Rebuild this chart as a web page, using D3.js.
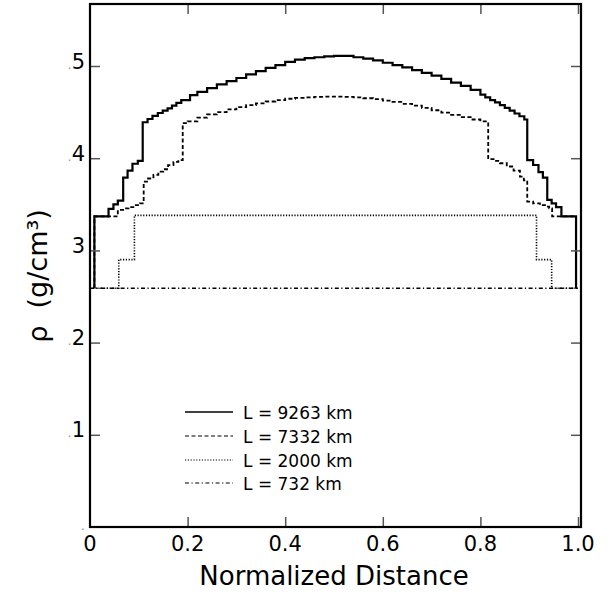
<!DOCTYPE html>
<html><head><meta charset="utf-8">
<script src="https://cdn.jsdelivr.net/npm/d3@7"></script>
<style>
html,body{margin:0;padding:0;background:#fff;}
svg{display:block;}
text{font-family:"DejaVu Sans",sans-serif;fill:#000;}
</style></head>
<body><div id="chart"></div>
<script>
// ---- data ----
const xTicks = [0, 0.2, 0.4, 0.6, 0.8, 1.0];
const xTickLabels = ["0", "0.2", "0.4", "0.6", "0.8", "1.0"];
const yTicks = [0, 1, 2, 3, 4, 5];
const yTickLabels = [".", ".1", ".2", "3", ".4", ".5"];
const legendLabels = ["L = 9263 km", "L = 7332 km", "L = 2000 km", "L = 732 km"];

// L = 9263 km (solid) : [normalized distance, density] step points
const seriesL9263 = [
  [0.009,2.59],[0.009,3.37],[0.038,3.45],[0.048,3.50],[0.057,3.54],[0.068,3.79],[0.077,3.865],
  [0.087,3.94],[0.098,3.97],[0.108,4.39],[0.118,4.425],[0.128,4.46],[0.139,4.49],[0.149,4.515],
  [0.159,4.54],[0.168,4.57],[0.177,4.60],[0.187,4.63],[0.205,4.685],[0.22,4.72],[0.24,4.76],
  [0.26,4.80],[0.28,4.835],[0.30,4.87],[0.32,4.91],[0.34,4.945],[0.36,4.98],[0.38,5.01],
  [0.40,5.045],[0.42,5.07],[0.44,5.085],[0.46,5.095],[0.48,5.105],[0.50,5.11],[0.52,5.11],
  [0.54,5.095],[0.56,5.08],[0.58,5.06],[0.60,5.035],[0.62,5.01],[0.64,4.985],[0.66,4.955],
  [0.68,4.925],[0.70,4.895],[0.72,4.86],[0.74,4.82],[0.76,4.785],[0.78,4.74],[0.80,4.69],
  [0.81,4.66],[0.82,4.63],[0.83,4.605],[0.84,4.575],[0.85,4.545],[0.86,4.515],[0.87,4.485],
  [0.88,4.455],[0.89,4.42],[0.896,3.98],[0.908,3.926],[0.919,3.85],[0.928,3.79],[0.937,3.547],
  [0.946,3.51],[0.955,3.47],[0.966,3.37],[0.996,2.59]
];
// L = 7332 km (dashed)
const seriesL7332 = [
  [0.009,2.59],[0.009,3.37],[0.057,3.44],[0.068,3.455],[0.079,3.47],[0.092,3.49],[0.102,3.51],
  [0.110,3.745],[0.119,3.78],[0.130,3.82],[0.140,3.855],[0.150,3.88],[0.160,3.925],[0.171,3.96],
  [0.181,3.98],[0.190,4.38],[0.20,4.40],[0.22,4.44],[0.24,4.475],[0.26,4.50],[0.28,4.53],
  [0.30,4.555],[0.32,4.575],[0.34,4.595],[0.36,4.615],[0.38,4.63],[0.40,4.645],[0.42,4.655],
  [0.44,4.66],[0.46,4.665],[0.48,4.667],[0.50,4.667],[0.52,4.665],[0.54,4.66],[0.56,4.65],
  [0.58,4.64],[0.60,4.625],[0.62,4.61],[0.64,4.59],[0.66,4.57],[0.68,4.545],[0.70,4.52],
  [0.72,4.495],[0.74,4.47],[0.76,4.445],[0.78,4.42],[0.80,4.40],[0.816,3.99],[0.827,3.97],
  [0.840,3.945],[0.854,3.91],[0.868,3.865],[0.881,3.80],[0.889,3.76],[0.896,3.53],[0.908,3.51],
  [0.922,3.49],[0.935,3.475],[0.941,3.456],[0.947,3.37],[0.996,2.59]
];
// L = 2000 km (dotted)
const seriesL2000 = [
  [0.0,2.59],[0.059,2.90],[0.091,3.38],[0.915,2.90],[0.946,2.59],[1.0,2.59]
];
// L = 732 km (dash-dot)
const seriesL732 = [
  [0.0,2.59],[1.0,2.59]
];

// ---- drawing ----
const W = 611, H = 593;
const svg = d3.select("#chart").append("svg").attr("width", W).attr("height", H);

const x = d3.scaleLinear().domain([0, 1]).range([90, 578]);
const y = d3.scaleLinear().domain([0, 1]).range([527, 434.8]);
const xMax = x.invert(581), yMax = y.invert(4);

const styles = [
  {w: 2.2, dash: null, lw: 1.4},
  {w: 1.8, dash: "4,2.5", lw: 1.1},
  {w: 1.6, dash: "1.2,1.6", lw: 1.1},
  {w: 1.6, dash: "4,2.5,1.2,2.5", lw: 1.1}
];
const allSeries = [seriesL9263, seriesL7332, seriesL2000, seriesL732];

const line = d3.line().x(d => x(d[0])).y(d => y(d[1])).curve(d3.curveStepAfter);

// draw lighter lines first so solid sits on top
[3, 2, 1, 0].forEach(i => {
  svg.append("path").datum(allSeries[i])
    .attr("d", line)
    .attr("fill", "none").attr("stroke", "#000")
    .attr("stroke-width", styles[i].w)
    .attr("stroke-dasharray", styles[i].dash);
});

// axes with inward ticks
const tickLen = 10;
const xAxisB = d3.axisBottom(x).tickValues(xTicks.slice(1)).tickSize(-tickLen).tickFormat("");
const xAxisT = d3.axisTop(x).tickValues(xTicks.slice(1)).tickSize(-tickLen).tickFormat("");
const yAxisL = d3.axisLeft(y).tickValues(yTicks.slice(1)).tickSize(-tickLen).tickFormat("");
const yAxisR = d3.axisRight(y).tickValues(yTicks.slice(1)).tickSize(-tickLen).tickFormat("");
const gB = svg.append("g").attr("transform", `translate(0,${y(0)})`).call(xAxisB);
const gT = svg.append("g").attr("transform", `translate(0,${y(yMax)})`).call(xAxisT);
const gL = svg.append("g").attr("transform", `translate(${x(0)},0)`).call(yAxisL);
const gR = svg.append("g").attr("transform", `translate(${x(xMax)},0)`).call(yAxisR);
[gB, gT, gL, gR].forEach(g => {
  g.select(".domain").remove();
  g.selectAll(".tick line").attr("stroke", "#555").attr("stroke-width", 1.5);
});

// frame
svg.append("rect")
  .attr("x", x(0)).attr("y", y(yMax))
  .attr("width", x(xMax) - x(0)).attr("height", y(0) - y(yMax))
  .attr("fill", "none").attr("stroke", "#000").attr("stroke-width", 2.2);

// x tick labels
svg.append("g").selectAll("text").data(xTicks).join("text")
  .attr("x", d => x(d)).attr("y", 551)
  .attr("text-anchor", "middle").attr("font-size", 21)
  .text((d, i) => xTickLabels[i]);

// y tick labels
svg.append("g").selectAll("text").data(yTicks).join("text")
  .attr("x", 85).attr("y", d => y(d) + 2.5)
  .attr("text-anchor", "end").attr("font-size", 21)
  .each(function(d, i) {
    const t = d3.select(this);
    const lab = yTickLabels[i];
    if (lab.startsWith(".")) {
      t.append("tspan").attr("fill", "#999").attr("font-size", 13).text(".");
      t.append("tspan").text(lab.slice(1));
    } else {
      t.text(lab);
    }
  });

// axis titles
svg.append("text").attr("x", 334).attr("y", 585)
  .attr("text-anchor", "middle").attr("font-size", 26)
  .text("Normalized Distance");
svg.append("text")
  .attr("transform", "translate(47,276) rotate(-90)")
  .attr("text-anchor", "middle").attr("font-size", 27)
  .style("white-space", "pre")
  .text("ρ  (g/cm³)");

// legend
const legY = [412, 436, 460, 483];
const leg = svg.append("g");
legendLabels.forEach((lab, i) => {
  leg.append("line").attr("x1", 185).attr("x2", 233).attr("y1", legY[i]).attr("y2", legY[i])
    .attr("stroke", "#000").attr("stroke-width", styles[i].lw)
    .attr("stroke-dasharray", styles[i].dash);
  leg.append("text").attr("x", 243).attr("y", legY[i] + 6.5)
    .attr("font-size", 17).text(lab);
});
</script>
</body></html>
